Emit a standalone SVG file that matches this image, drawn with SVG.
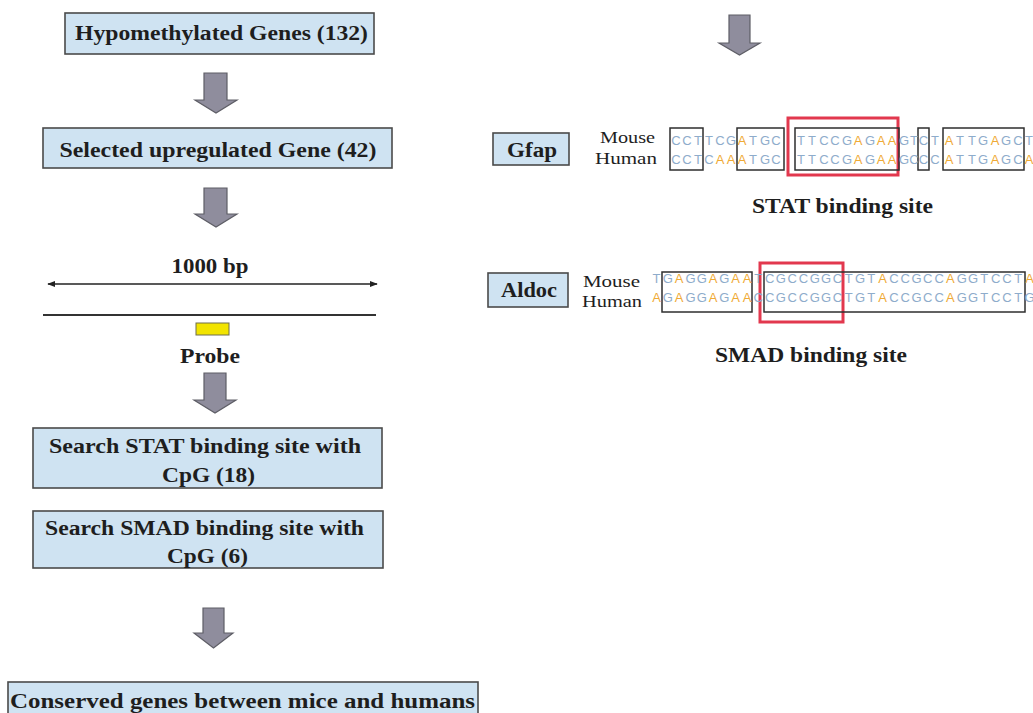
<svg xmlns="http://www.w3.org/2000/svg" width="1033" height="713" viewBox="0 0 1033 713">
<defs>
<style>
.box{fill:#cfe3f2;stroke:#4a4a4a;stroke-width:1.6}
.lbl{font-family:"Liberation Serif","Times New Roman",serif;font-weight:bold;font-size:20px;fill:#1e1e1e;text-anchor:middle}
.sp{font-family:"Liberation Serif","Times New Roman",serif;font-size:16px;fill:#1e1e1e;text-anchor:middle}
.seq{font-family:"Liberation Sans",Arial,sans-serif;font-size:13px;fill:#8eaccb;text-anchor:middle}
.a{fill:#efaa35}
.blk{fill:#8f8d9d;stroke:#5e5e66;stroke-width:1.2}
.bx{fill:none;stroke:#2e2e2e;stroke-width:1.5}
.red{fill:none;stroke:#e2384e;stroke-width:3}
</style>
<marker id="ah" viewBox="0 0 10 10" refX="9" refY="5" markerWidth="8" markerHeight="8" markerUnits="userSpaceOnUse" orient="auto-start-reverse">
<path d="M0,1 L10,5 L0,9 Z" fill="#222"/>
</marker>
</defs>
<rect width="1033" height="713" fill="#ffffff"/>

<g id="connectors">
<path class="blk" d="M204,73 H227 V100 H237 L216,113 L195,100 H204 Z"/>
<path class="blk" d="M204,188 H227 V214 H237 L216,227 L195,214 H204 Z"/>
<path class="blk" d="M204,373 H226 V400 H236 L215,413 L194,400 H204 Z"/>
<path class="blk" d="M203,608 H224 V633 H233 L213.5,648 L194,633 H203 Z"/>
<path class="blk" d="M729,15 H750 V43 H760 L739.5,55 L719,43 H729 Z"/>
</g>

<g id="n-hypo">
<rect class="box" x="65" y="13" width="309" height="41"/>
<text class="lbl" x="221.5" y="40" textLength="293" lengthAdjust="spacingAndGlyphs">Hypomethylated Genes (132)</text>
</g>
<g id="n-selected">
<rect class="box" x="43" y="128" width="349" height="40"/>
<text class="lbl" x="218" y="157" textLength="317" lengthAdjust="spacingAndGlyphs">Selected upregulated Gene (42)</text>
</g>
<g id="n-region">
<text class="lbl" x="210" y="273" font-size="19" textLength="77" lengthAdjust="spacingAndGlyphs">1000 bp</text>
<line x1="48" y1="284" x2="377" y2="284" stroke="#222" stroke-width="1.3" marker-start="url(#ah)" marker-end="url(#ah)"/>
<line x1="43" y1="315" x2="376" y2="315" stroke="#333" stroke-width="2"/>
<rect x="196" y="323" width="33" height="12" fill="#f2e400" stroke="#6e6e4e" stroke-width="1"/>
<text class="lbl" x="210" y="363" font-size="19" textLength="60" lengthAdjust="spacingAndGlyphs">Probe</text>
</g>
<g id="n-stat">
<rect class="box" x="33" y="428" width="349" height="60"/>
<text class="lbl" x="205" y="453" textLength="312" lengthAdjust="spacingAndGlyphs">Search STAT binding site with</text>
<text class="lbl" x="208.5" y="482" textLength="93" lengthAdjust="spacingAndGlyphs">CpG (18)</text>
</g>
<g id="n-smad">
<rect class="box" x="33" y="511" width="350" height="57"/>
<text class="lbl" x="204.5" y="535" textLength="319" lengthAdjust="spacingAndGlyphs">Search SMAD binding site with</text>
<text class="lbl" x="207.5" y="563" textLength="81" lengthAdjust="spacingAndGlyphs">CpG (6)</text>
</g>
<g id="n-conserved">
<rect class="box" x="8" y="682" width="470" height="40"/>
<text class="lbl" x="242.5" y="708" textLength="465" lengthAdjust="spacingAndGlyphs">Conserved genes between mice and humans</text>
</g>

<g id="n-gfap">
<rect class="box" x="493" y="133" width="76" height="32"/>
<text class="lbl" x="532" y="157" textLength="50" lengthAdjust="spacingAndGlyphs">Gfap</text>
<text class="sp" x="627.5" y="143" textLength="55" lengthAdjust="spacingAndGlyphs">Mouse</text>
<text class="sp" x="626" y="164" textLength="62" lengthAdjust="spacingAndGlyphs">Human</text>
<rect class="red" x="788" y="118" width="110" height="57"/>
<rect class="bx" x="670" y="128" width="33" height="42"/>
<rect class="bx" x="737" y="128" width="47" height="42"/>
<rect class="bx" x="795" y="128" width="104" height="42"/>
<rect class="bx" x="918" y="128" width="11" height="42"/>
<rect class="bx" x="943" y="128" width="81" height="42"/>
<text class="seq" y="145" x="676 687 698 709 720 731 742 753 765 776 801 812 824 835 847 858 870 881 892 904 914 923.5 935 949 960 972 983 995 1006 1018 1029"><tspan>CCTTCG</tspan><tspan class="a">A</tspan><tspan>TGCTTCCG</tspan><tspan class="a">A</tspan><tspan>G</tspan><tspan class="a">AA</tspan><tspan>GTCT</tspan><tspan class="a">A</tspan><tspan>TTG</tspan><tspan class="a">A</tspan><tspan>GCT</tspan></text>
<text class="seq" y="164" x="676 687 698 709 720 731 742 753 765 776 801 812 824 835 847 858 870 881 892 904 914 923.5 935 949 960 972 983 995 1006 1018 1029"><tspan>CCTC</tspan><tspan class="a">AAA</tspan><tspan>TGCTTCCG</tspan><tspan class="a">A</tspan><tspan>G</tspan><tspan class="a">AA</tspan><tspan>GCCC</tspan><tspan class="a">A</tspan><tspan>TTG</tspan><tspan class="a">A</tspan><tspan>GC</tspan><tspan class="a">A</tspan></text>
<text class="lbl" x="842.5" y="213" font-size="18" textLength="181" lengthAdjust="spacingAndGlyphs">STAT binding site</text>
</g>

<g id="n-aldoc">
<rect class="box" x="488" y="273" width="80" height="34"/>
<text class="lbl" x="529" y="297" textLength="56" lengthAdjust="spacingAndGlyphs">Aldoc</text>
<text class="sp" x="611.5" y="287" textLength="57" lengthAdjust="spacingAndGlyphs">Mouse</text>
<text class="sp" x="612" y="307" textLength="60" lengthAdjust="spacingAndGlyphs">Human</text>
<rect class="red" x="760" y="263" width="83" height="59"/>
<rect class="bx" x="662" y="272" width="90" height="40"/>
<rect class="bx" x="764" y="272" width="261" height="40"/>
<text class="seq" y="283" x="656.6 667.9 679.2 690.5 701.8 713.1 724.4 735.7 747 758.3 769.6 780.9 792.2 803.5 814.8 826.1 837.4 848.7 860 871.3 882.6 893.9 905.2 916.5 927.8 939.1 950.4 961.7 973 984.3 995.6 1006.9 1018.2 1029.5"><tspan>TG</tspan><tspan class="a">A</tspan><tspan>GG</tspan><tspan class="a">A</tspan><tspan>G</tspan><tspan class="a">AA</tspan><tspan>TCGCCGGCTGT</tspan><tspan class="a">A</tspan><tspan>CCGCC</tspan><tspan class="a">A</tspan><tspan>GGTCCT</tspan><tspan class="a">A</tspan></text>
<text class="seq" y="302" x="656.6 667.9 679.2 690.5 701.8 713.1 724.4 735.7 747 758.3 769.6 780.9 792.2 803.5 814.8 826.1 837.4 848.7 860 871.3 882.6 893.9 905.2 916.5 927.8 939.1 950.4 961.7 973 984.3 995.6 1006.9 1018.2 1029.5"><tspan class="a">A</tspan><tspan>G</tspan><tspan class="a">A</tspan><tspan>GG</tspan><tspan class="a">A</tspan><tspan>G</tspan><tspan class="a">AA</tspan><tspan>CCGCCGGCTGT</tspan><tspan class="a">A</tspan><tspan>CCGCC</tspan><tspan class="a">A</tspan><tspan>GGTCCTG</tspan></text>
<text class="lbl" x="811" y="362" font-size="18" textLength="192" lengthAdjust="spacingAndGlyphs">SMAD binding site</text>
</g>
</svg>
